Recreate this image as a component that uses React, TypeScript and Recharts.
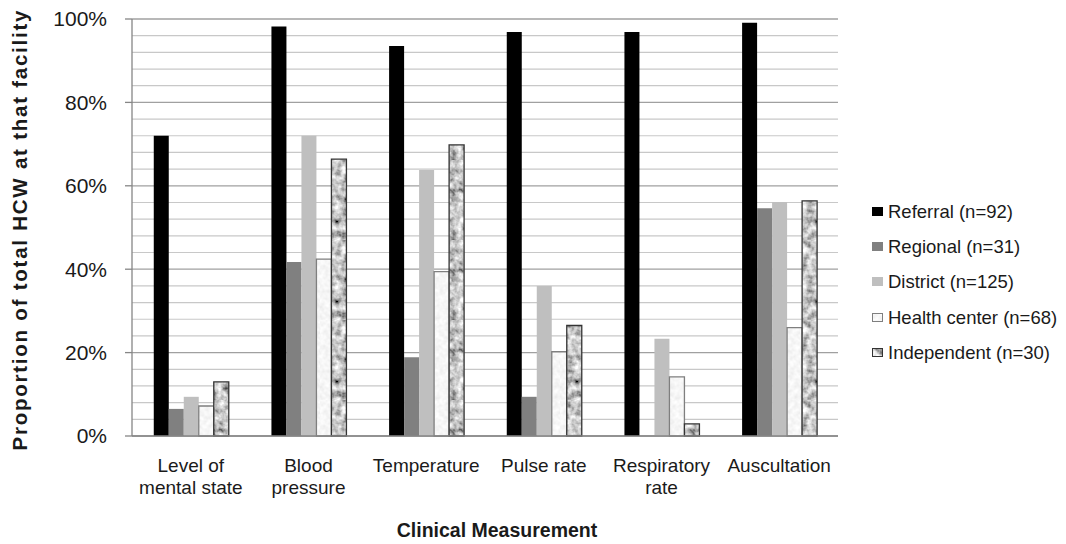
import React from "react";
import { BarChart, Bar, XAxis, YAxis, CartesianGrid } from "recharts";

const CATEGORIES = [
  "Level of\nmental state",
  "Blood\npressure",
  "Temperature",
  "Pulse rate",
  "Respiratory\nrate",
  "Auscultation",
];

const REFERRAL = [72, 98.2, 93.5, 96.9, 96.9, 99.1];
const REGIONAL = [6.5, 41.7, 18.9, 9.4, 0, 54.6];
const DISTRICT = [9.4, 72, 63.8, 36, 23.3, 56.1];
const HEALTH_CENTER = [7.2, 42.4, 39.4, 20.2, 14.2, 26];
const INDEPENDENT = [13, 66.4, 69.8, 26.5, 2.9, 56.4];

const MAJOR_TICKS = [0, 20, 40, 60, 80, 100];
const MINOR_TICKS = [4, 8, 12, 16, 24, 28, 32, 36, 44, 48, 52, 56, 64, 68, 72, 76, 84, 88, 92, 96];

const SERIES = [
  { key: "referral", name: "Referral (n=92)", fill: "#000000", stroke: "none" },
  { key: "regional", name: "Regional (n=31)", fill: "#808080", stroke: "none" },
  { key: "district", name: "District (n=125)", fill: "#bfbfbf", stroke: "none" },
  { key: "healthCenter", name: "Health center (n=68)", fill: "url(#hcFill)", stroke: "#7f7f7f" },
  { key: "independent", name: "Independent (n=30)", fill: "url(#indepFill)", stroke: "#333333" },
];

const data = CATEGORIES.map((name, i) => ({
  name,
  referral: REFERRAL[i],
  regional: REGIONAL[i],
  district: DISTRICT[i],
  healthCenter: HEALTH_CENTER[i],
  independent: INDEPENDENT[i],
}));

const FONT = "'Liberation Sans', Arial, sans-serif";

function CategoryTick(props: any) {
  const { x, y, payload } = props;
  const lines = String(payload.value).split("\n");
  return (
    <text x={x} y={y} textAnchor="middle" fontFamily={FONT} fontSize={19} fill="#1a1a1a">
      {lines.map((l, i) => (
        <tspan key={i} x={x} dy={i === 0 ? 28 : 22}>
          {l}
        </tspan>
      ))}
    </text>
  );
}

function Patterns() {
  return (
    <svg width={0} height={0} style={{ position: "absolute" }}>
      <defs>
        <filter id="indepNoise" x="0" y="0" width="100%" height="100%">
          <feTurbulence type="fractalNoise" baseFrequency="0.14" numOctaves={3} seed={3} />
          <feColorMatrix
            type="matrix"
            values="1.5 0 0 0 -0.18  1.5 0 0 0 -0.18  1.5 0 0 0 -0.18  0 0 0 0 1"
          />
        </filter>
        <filter id="hcNoise" x="0" y="0" width="100%" height="100%">
          <feTurbulence type="fractalNoise" baseFrequency="0.2" numOctaves={2} seed={7} />
          <feColorMatrix
            type="matrix"
            values="0.25 0 0 0 0.8  0.25 0 0 0 0.8  0.25 0 0 0 0.8  0 0 0 0 1"
          />
        </filter>
        <pattern id="indepFill" patternUnits="userSpaceOnUse" width={80} height={80}>
          <rect width={80} height={80} filter="url(#indepNoise)" />
        </pattern>
        <pattern id="hcFill" patternUnits="userSpaceOnUse" width={80} height={80}>
          <rect width={80} height={80} filter="url(#hcNoise)" />
        </pattern>
      </defs>
    </svg>
  );
}

function LegendBox() {
  return (
    <div style={{ position: "absolute", left: 872, top: 194.5, fontFamily: FONT, fontSize: 18.5, color: "#1a1a1a" }}>
      {SERIES.map((s) => (
        <div key={s.key} style={{ height: 35.2, display: "flex", alignItems: "center", whiteSpace: "nowrap" }}>
          <svg width={16} height={12}>
            <rect
              x={0.5}
              y={1.5}
              width={10}
              height={8}
              fill={s.fill}
              stroke={s.stroke === "none" ? s.fill : s.stroke}
            />
          </svg>
          <span>{s.name}</span>
        </div>
      ))}
    </div>
  );
}

function gridCoords(props: any, values: number[]) {
  const { yAxis, offset } = props;
  if (yAxis && typeof yAxis.scale === "function") {
    return values.map((v) => yAxis.scale(v));
  }
  return values.map((v) => offset.top + offset.height * (1 - v / 100));
}

export default function App() {
  return (
    <div style={{ position: "absolute", left: 0, top: 0, width: 1066, height: 544, background: "#fff" }}>
      <Patterns />
      <BarChart
        width={1066}
        height={544}
        data={data}
        margin={{ top: 19, right: 228, bottom: 0, left: 0 }}
        barCategoryGap="18.5%"
        barGap={0}
      >
        <CartesianGrid
          vertical={false}
          stroke="#c8c8c8"
          strokeWidth={1.2}
          horizontalCoordinatesGenerator={(p: any) => gridCoords(p, MINOR_TICKS)}
        />
        <CartesianGrid
          vertical={false}
          stroke="#a0a0a0"
          strokeWidth={1.3}
          horizontalCoordinatesGenerator={(p: any) => gridCoords(p, MAJOR_TICKS)}
        />
        <XAxis
          dataKey="name"
          height={108}
          axisLine={{ stroke: "#868686", strokeWidth: 1.3 }}
          tickLine={false}
          tick={<CategoryTick />}
          interval={0}
          label={(p: any) => {
            const vb = p.viewBox;
            return (
              <text
                x={vb.x + vb.width / 2 + 12}
                y={537}
                textAnchor="middle"
                fontFamily={FONT}
                fontWeight="bold"
                fontSize={19.5}
                fill="#1a1a1a"
              >
                Clinical Measurement
              </text>
            );
          }}
        />
        <YAxis
          width={132}
          domain={[0, 100]}
          ticks={MAJOR_TICKS}
          type="number"
          tickFormatter={(v) => `${v}%`}
          axisLine={{ stroke: "#868686", strokeWidth: 1.3 }}
          tickLine={{ stroke: "#868686", strokeWidth: 1.3 }}
          tickSize={7}
          tickMargin={18}
          tick={{ fontFamily: FONT, fontSize: 21, fill: "#1a1a1a" }}
          label={(p: any) => {
            const vb = p.viewBox;
            const cy = vb.y + vb.height / 2 + 3;
            return (
              <text
                x={27}
                y={cy}
                transform={`rotate(-90, 27, ${cy})`}
                textAnchor="middle"
                fontFamily={FONT}
                fontWeight="bold"
                fontSize={20.5}
                fill="#1a1a1a"
                textLength={440}
                lengthAdjust="spacing"
              >
                Proportion  of total HCW at that facility
              </text>
            );
          }}
        />
        {SERIES.map((s) => (
          <Bar
            key={s.key}
            dataKey={s.key}
            name={s.name}
            fill={s.fill}
            stroke={s.stroke}
            strokeWidth={s.stroke === "none" ? 0 : 1.3}
            isAnimationActive={false}
          />
        ))}
      </BarChart>
      <LegendBox />
    </div>
  );
}
